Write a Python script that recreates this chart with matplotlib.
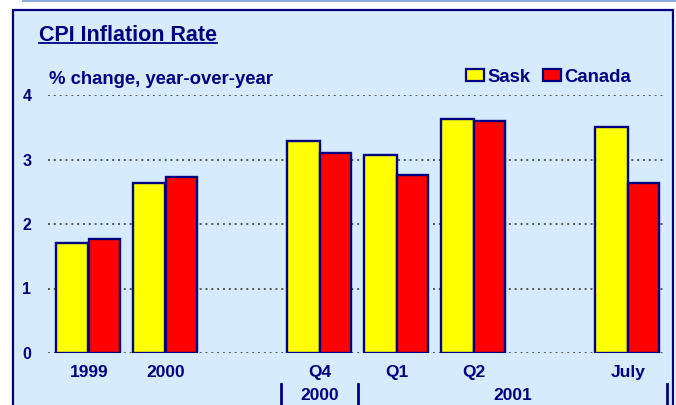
import matplotlib
matplotlib.use("Agg")
import matplotlib.pyplot as plt
from matplotlib.patches import Rectangle, Patch
from matplotlib.lines import Line2D
import numpy as np

plt.rcParams['font.family'] = ['Liberation Sans', 'DejaVu Sans']
plt.rcParams['font.weight'] = 'bold'

# ---- data ----
categories = ["1999", "2000", "Q4", "Q1", "Q2", "July"]
positions = [0, 1, 3, 4, 5, 7]
sask = [1.71, 2.64, 3.29, 3.07, 3.63, 3.50]
canada = [1.77, 2.73, 3.10, 2.76, 3.60, 2.64]
group_labels = ["2000", "2001"]
group_centers = [3.0, 5.5]
separators = [2.5, 3.5, 7.5]
yticks = [0, 1, 2, 3, 4]

NAVY = '#000080'
BG = '#D6EBFD'
W, H = 676, 405

fig = plt.figure(figsize=(W / 100, H / 100), dpi=100)
fig.patch.set_facecolor('white')

# panel background with border
fig.patches.append(Rectangle((13 / W, -0.05), (673 - 13) / W, (H - 10) / H + 0.05,
                             transform=fig.transFigure, facecolor=BG,
                             edgecolor=NAVY, linewidth=1.6, zorder=-5))
fig.lines.append(Line2D([23 / W, 1], [1 - 0.8 / H, 1 - 0.8 / H], transform=fig.transFigure,
                        color='#8FAADC', linewidth=1.5, zorder=-4))
fig.lines.append(Line2D([675.5 / W, 675.5 / W], [0, 1 - 20 / H], transform=fig.transFigure,
                        color='#8FA0C8', linewidth=1.0, zorder=-4))

ax = fig.add_axes([48 / W, (H - 353) / H, (665 - 48) / W, (353 - 95) / H])
ax.set_zorder(1)
ax.set_facecolor('none')
ax.set_xlim(-0.53, 7.48)
ax.set_ylim(0, 4)

pos = np.array(positions, dtype=float)
ax.bar(pos - 0.215, sask, width=0.42, color='#FFFF00', edgecolor=NAVY, linewidth=1.7, zorder=3)
ax.bar(pos + 0.205, canada, width=0.40, color='#FF0000', edgecolor=NAVY, linewidth=1.7, zorder=3)

ax.set_yticks(yticks)
ax.set_yticklabels([str(t) for t in yticks], fontsize=11.5, color=NAVY, fontweight='bold')
ax.tick_params(axis='y', length=0, pad=12)
ax.set_xticks([])
ax.yaxis.grid(True, linestyle=(0, (1, 2)), color='#555555', linewidth=1.4)
ax.set_axisbelow(True)
for s in ax.spines.values():
    s.set_visible(False)

xt = ax.get_xaxis_transform()
for p, c in zip(positions, categories):
    ax.text(p, -0.0764, c, transform=xt, ha='center', va='center', fontsize=12.5,
            color=NAVY, fontweight='bold')
for gc, gl in zip(group_centers, group_labels):
    ax.text(gc, -0.163, gl, transform=xt, ha='center', va='center', fontsize=12.5,
            color=NAVY, fontweight='bold')
for sx in separators:
    ax.plot([sx, sx], [-0.12, -0.25], transform=xt, color=NAVY, linewidth=2, clip_on=False)

# title with underline
t = fig.text(39 / W, 1 - 41 / H, "CPI Inflation Rate", ha='left', va='baseline',
             fontsize=15.5, color=NAVY, fontweight='bold')
fig.text(49 / W, 1 - 79 / H, "% change, year-over-year", ha='left', va='center',
         fontsize=13.3, color=NAVY, fontweight='bold')

fig.canvas.draw()
bb = t.get_window_extent()
fig.lines.append(Line2D([bb.x0 / W, bb.x1 / W], [(H - 42.5) / H, (H - 42.5) / H],
                        transform=fig.transFigure, color=NAVY, linewidth=1.3))

handles = [Patch(facecolor='#FFFF00', edgecolor=NAVY, linewidth=1.6, label='Sask'),
           Patch(facecolor='#FF0000', edgecolor=NAVY, linewidth=1.6, label='Canada')]
leg = fig.legend(handles=handles, loc='center left', bbox_to_anchor=(466 / W, 1 - 77 / H),
                 bbox_transform=fig.transFigure, ncol=2, frameon=False, fontsize=13.3,
                 handlelength=0.95, handleheight=0.62, handletextpad=0.2,
                 columnspacing=0.7, borderpad=0, borderaxespad=0)
for txt in leg.get_texts():
    txt.set_color(NAVY)
    txt.set_fontweight('bold')

fig.savefig('out.png', dpi=100, facecolor='white')
